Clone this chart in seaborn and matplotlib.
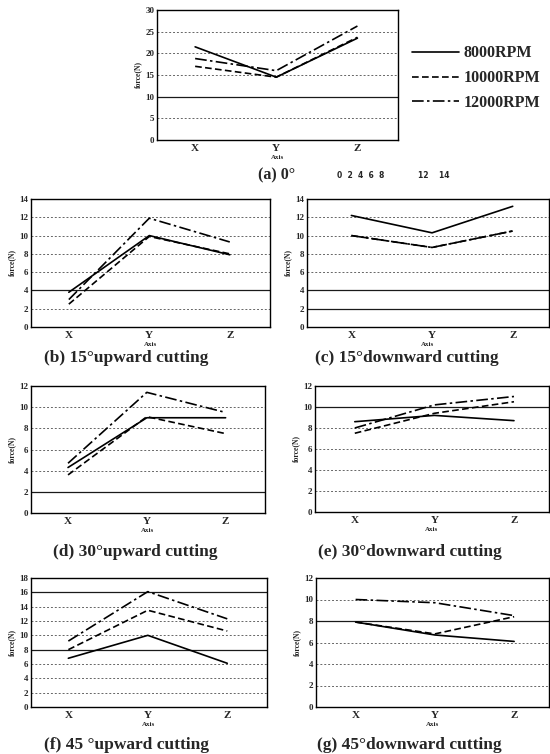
import numpy as np
import pandas as pd
import matplotlib
matplotlib.use("Agg")
import matplotlib.pyplot as plt
import seaborn as sns

# cutting axis and spindle speeds
axis_names = ["X", "Y", "Z"]
rpm_names = ["8000RPM", "10000RPM", "12000RPM"]

# force (N), one list per speed
a_8000 = [21.5, 14.5, 23.5]
a_10000 = [17.0, 14.5, 23.7]
a_12000 = [18.8, 16.0, 26.3]

b_8000 = [3.8, 10.0, 7.9]
b_10000 = [2.5, 9.9, 8.0]
b_12000 = [3.0, 11.9, 9.3]

c_8000 = [12.2, 10.3, 13.2]
c_10000 = [10.0, 8.7, 10.5]
c_12000 = [10.0, 8.7, 10.5]

d_8000 = [4.3, 9.0, 9.0]
d_10000 = [3.6, 9.1, 7.5]
d_12000 = [4.7, 11.4, 9.5]

e_8000 = [8.6, 9.2, 8.7]
e_10000 = [7.5, 9.4, 10.5]
e_12000 = [8.0, 10.2, 11.0]

f_8000 = [6.8, 10.0, 6.1]
f_10000 = [8.0, 13.5, 10.6]
f_12000 = [9.2, 16.1, 12.3]

g_8000 = [7.9, 6.7, 6.1]
g_10000 = [7.9, 6.8, 8.4]
g_12000 = [10.0, 9.7, 8.5]

captions = ["(a) 0°", "(b) 15°upward cutting", "(c) 15°downward cutting",
            "(d) 30°upward cutting", "(e) 30°downward cutting",
            "(f) 45 °upward cutting", "(g) 45°downward cutting"]

sns.set_theme(style="white")
plt.rcParams["font.family"] = ["Liberation Serif", "DejaVu Serif"]
plt.rcParams["font.weight"] = "bold"

W, H = 550, 754
fig = plt.figure(figsize=(W / 100, H / 100), dpi=100)

def make_df(v8, v10, v12):
    rows = []
    for name, vals in zip(rpm_names, [v8, v10, v12]):
        for ax_name, v in zip(axis_names, vals):
            rows.append({"axis": ax_name, "rpm": name, "force": v})
    return pd.DataFrame(rows)

dash_map = {"8000RPM": "", "10000RPM": (4, 2), "12000RPM": (7, 2, 1.5, 2)}

def panel(box, df, ymax, ystep, solid, xlim=(-0.47, 2.5)):
    l, t, r, b = box
    ax = fig.add_axes([l / W, 1 - b / H, (r - l) / W, (b - t) / H])
    sns.lineplot(data=df, x="axis", y="force", style="rpm", style_order=rpm_names,
                 dashes=dash_map, color="black", linewidth=1.2, ax=ax, legend=True)
    ax.set_ylim(0, ymax)
    ax.set_xlim(*xlim)
    ticks = np.arange(0, ymax + 0.1, ystep)
    ax.set_yticks(ticks)
    ax.set_yticklabels([f"{int(v)}" for v in ticks], fontsize=6.5, fontweight="bold")
    ax.set_xticks([0, 1, 2])
    ax.set_xticklabels(axis_names, fontsize=8, fontweight="bold")
    ax.tick_params(axis="y", length=0, pad=2)
    ax.tick_params(axis="x", length=0, pad=3)
    for v in ticks[1:-1]:
        if v in solid:
            ax.axhline(v, color="0.1", lw=0.9, zorder=0)
        else:
            ax.axhline(v, color="0.4", lw=0.7, ls=(0, (2, 2)), zorder=0)
    ax.set_ylabel("force(N)", fontsize=5.5, fontweight="bold", labelpad=2)
    ax.set_xlabel("Axis", fontsize=5, fontweight="bold", labelpad=1)
    for s in ax.spines.values():
        s.set_color("black")
        s.set_linewidth(1.0)
    return ax

ax_a = panel((157, 10, 398, 140), make_df(a_8000, a_10000, a_12000), 30, 5, [10])
handles, labels = ax_a.get_legend_handles_labels()
ax_a.get_legend().remove()
fig.legend(handles, labels, loc="upper left", bbox_to_anchor=(398 / W, 1 - 31 / H),
           frameon=False, handlelength=2.9, labelspacing=0.55, handletextpad=0.3,
           prop={"family": "Liberation Serif", "weight": "bold", "size": 11.5})

axs = [
    panel((31, 199, 270, 327), make_df(b_8000, b_10000, b_12000), 14, 2, [4]),
    panel((307, 199, 549, 327), make_df(c_8000, c_10000, c_12000), 14, 2, [4, 2], (-0.55, 2.45)),
    panel((31, 386, 265, 513), make_df(d_8000, d_10000, d_12000), 12, 2, [2]),
    panel((315, 386, 549, 512), make_df(e_8000, e_10000, e_12000), 12, 2, [10], (-0.5, 2.44)),
    panel((31, 578, 267, 707), make_df(f_8000, f_10000, f_12000), 18, 2, [16, 8]),
    panel((316, 578, 549, 707), make_df(g_8000, g_10000, g_12000), 12, 2, [8], (-0.5, 2.44)),
]
for ax in axs:
    ax.get_legend().remove()

cap_pos = [(277, 175), (126, 358), (407, 358), (135, 552), (410, 552), (127, 745), (409, 745)]
for i, (txt, (x, y)) in enumerate(zip(captions, cap_pos)):
    fig.text(x / W, 1 - y / H, txt, ha="center", va="center",
             fontsize=11.5 if i == 0 else 12.5, fontweight="bold")

# stray tick numbers printed under panel (a)
fig.text(337 / W, 1 - 175 / H, "0  2  4  6  8", fontsize=5.5, fontweight="bold",
         ha="left", va="center", family="DejaVu Sans")
fig.text(418 / W, 1 - 175 / H, "12    14", fontsize=5.5, fontweight="bold",
         ha="left", va="center", family="DejaVu Sans")

fig.savefig("out.png", dpi=100, facecolor="white")
plt.close()
